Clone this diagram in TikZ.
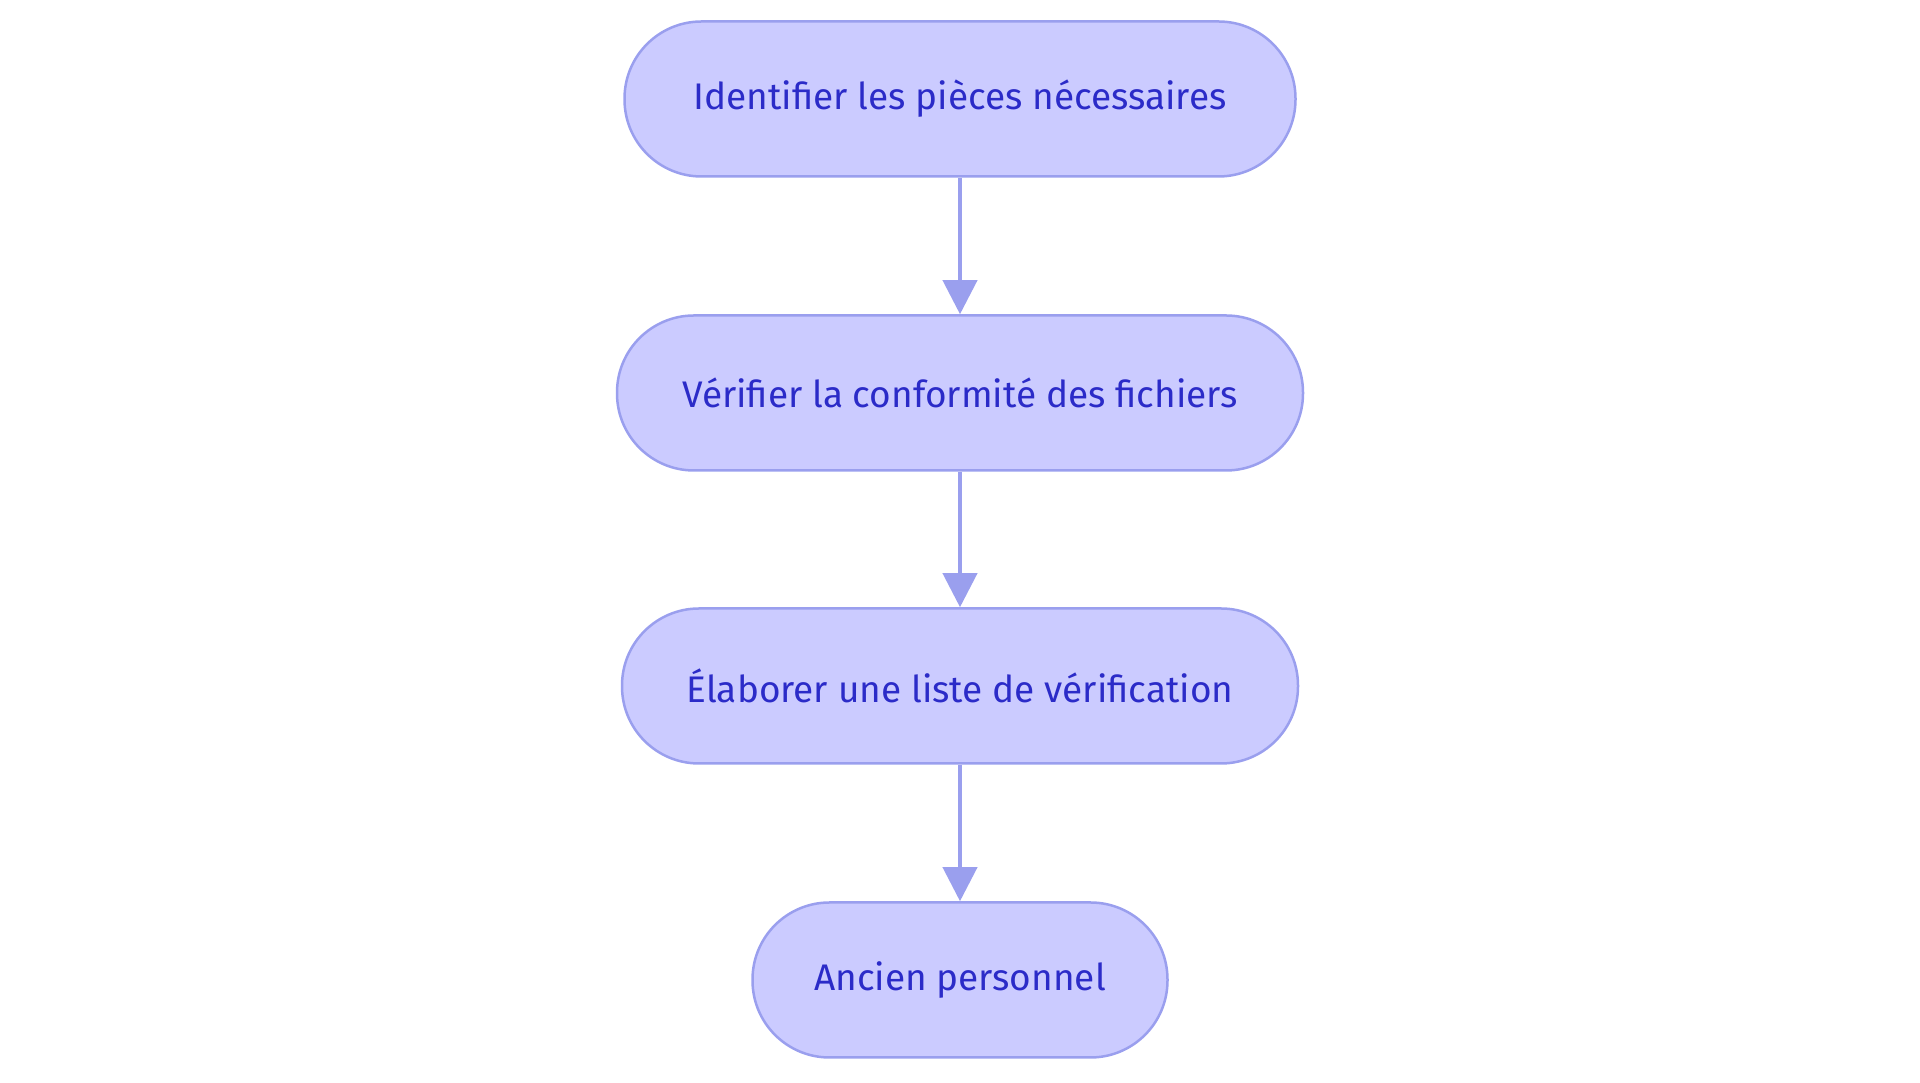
\documentclass[tikz,border=0pt]{standalone}
\usepackage{fontspec}
\setmainfont{Fira Sans}
\usetikzlibrary{positioning,arrows.meta}
\definecolor{boxfill}{HTML}{CBCBFF}
\definecolor{boxline}{HTML}{9A9FEE}
\definecolor{boxtext}{HTML}{2B2BC8}
\tikzset{
  stepbox/.style={draw=boxline, line width=2.5pt, fill=boxfill, rounded corners=77pt,
    minimum height=155pt, text=boxtext, font=\fontsize{37}{40}\selectfont, inner sep=0pt},
  flow/.style={draw=boxline, line width=4pt, -{Triangle[length=34pt,width=34pt]}}
}
\begin{document}
\begin{tikzpicture}[x=1pt,y=1pt]
 \useasboundingbox (0,0) rectangle (1920,1083);
 \node[stepbox, minimum width=671pt] (pieces) at (960,984) {Identifier les pièces nécessaires};
 \node[stepbox, minimum width=686pt] (fichiers) at (960,690) {Vérifier la conformité des fichiers};
 \node[stepbox, minimum width=676pt] (liste) at (960,397) {Élaborer une liste de vérification};
 \node[stepbox, minimum width=415pt] (ancien) at (960,103) {Ancien personnel};

 \draw[flow] (pieces) -- (fichiers);
 \draw[flow] (fichiers) -- (liste);
 \draw[flow] (liste) -- (ancien);
\end{tikzpicture}
\end{document}
